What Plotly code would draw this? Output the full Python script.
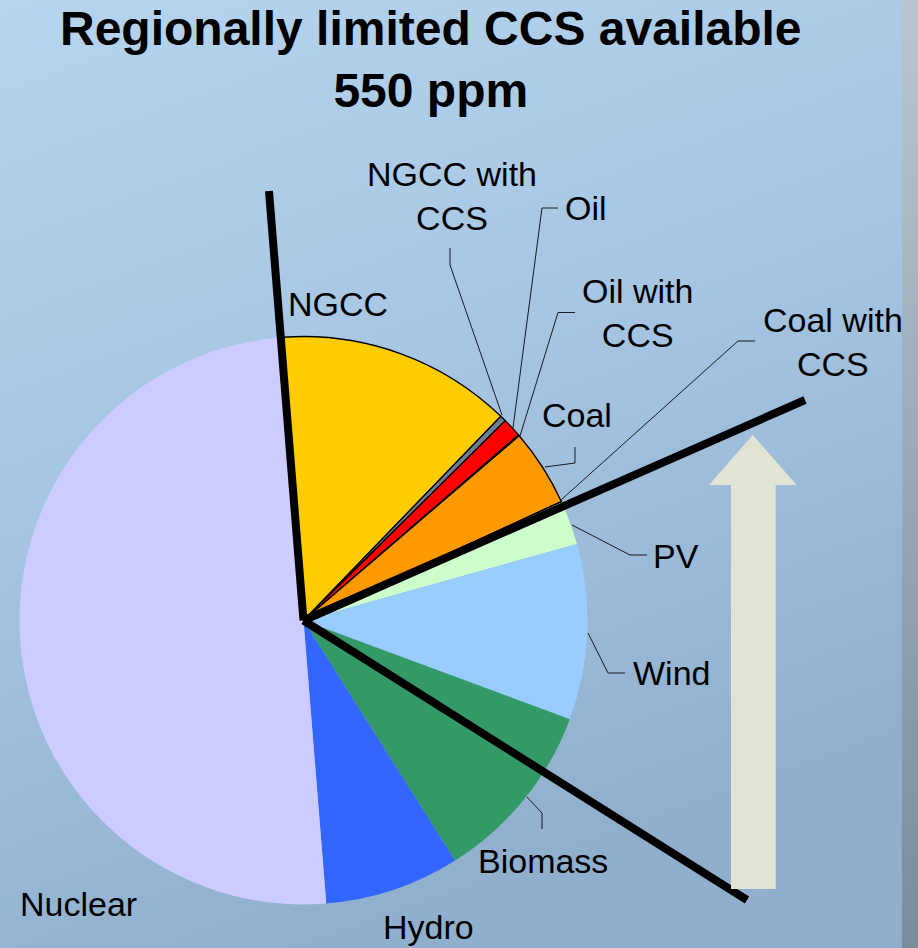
import base64
import plotly.graph_objects as go

W, H = 918, 948

# ---- data (shares of electricity generation, %) ----
categories = ["NGCC", "NGCC with CCS", "Oil", "Oil with CCS", "Coal", "Coal with CCS",
              "PV", "Wind", "Biomass", "Hydro", "Nuclear"]
shares = [13.4, 0.35, 1.1, 0.05, 4.4, 0.05, 2.5, 10.0, 10.4, 7.7, 50.2]
title_lines = ["Regionally limited CCS available", "550 ppm"]

# ---- styles ----
colors = ["#FFCC00", "#6E7E8E", "#FF0000", "#800000", "#FF9900", "#993300",
          "#CCFFCC", "#99CCFF", "#339966", "#3366FF", "#CCCCFF"]
outlined = {"NGCC", "NGCC with CCS", "Oil", "Oil with CCS", "Coal", "Coal with CCS"}
line_widths = [1.3 if c in outlined else 0 for c in categories]

# pie geometry (pixels)
CX, CY, R = 303.5, 620.5, 284


def X(px):
    return px / W


def Y(py):
    return 1 - py / H


# label layout: (text, x centre px, y middle px)
label_pos = {
    "NGCC": ("NGCC", 337.5, 304),
    "NGCC with CCS": ("NGCC with<br>CCS", 452, 196),
    "Oil": ("Oil", 586, 208),
    "Oil with CCS": ("Oil with<br>CCS", 637, 313),
    "Coal": ("Coal", 577, 415),
    "Coal with CCS": ("Coal with<br>CCS", 833, 342),
    "PV": ("PV", 675.5, 556),
    "Wind": ("Wind", 671.7, 673),
    "Biomass": ("Biomass", 543.3, 861),
    "Hydro": ("Hydro", 428.3, 927),
    "Nuclear": ("Nuclear", 78, 904),
}
leaders = [
    [(450, 248), (450, 265), (502, 415)],
    [(558, 208), (542, 208), (513, 428)],
    [(575, 312.5), (558, 312.5), (520, 436)],
    [(575, 447), (575, 463), (545, 467)],
    [(755, 341), (738, 341), (561, 500)],
    [(647, 555), (630, 555), (572, 525)],
    [(625, 673), (608, 673), (588, 633)],
    [(542, 829), (542, 813), (527, 797)],
]

fig = go.Figure()
fig.add_trace(go.Pie(
    labels=categories,
    values=shares,
    sort=False,
    direction="clockwise",
    rotation=-4.15,
    textinfo="none",
    hoverinfo="label+percent",
    marker=dict(colors=colors, line=dict(color="black", width=line_widths)),
    domain=dict(x=[X(CX - R), X(CX + R)], y=[Y(CY + R), Y(CY - R)]),
    showlegend=False,
))

# background (svg gradient)
svg = f"""<svg xmlns='http://www.w3.org/2000/svg' width='{W}' height='{H}' viewBox='0 0 {W} {H}' preserveAspectRatio='none'>
<defs>
<linearGradient id='g' x1='0' y1='0' x2='0.35' y2='1'>
<stop offset='0' stop-color='#b6d4ee'/>
<stop offset='0.5' stop-color='#a5c5e2'/>
<stop offset='1' stop-color='#8fafcc'/>
</linearGradient>
<linearGradient id='s' x1='0' y1='0' x2='0' y2='1'>
<stop offset='0' stop-color='#b9c6ce'/>
<stop offset='1' stop-color='#778d9b'/>
</linearGradient>
</defs>
<rect x='0' y='0' width='{W}' height='{H}' fill='url(#g)'/>
<rect x='902' y='0' width='{W-902}' height='{H}' fill='url(#s)'/>
</svg>"""
src = "data:image/svg+xml;base64," + base64.b64encode(svg.encode()).decode()

shapes = []
# thick black divider lines
for (x0, y0) in [(269, 191), (805, 400), (747, 900)]:
    shapes.append(dict(type="line", xref="paper", yref="paper",
                       x0=X(x0), y0=Y(y0), x1=X(CX), y1=Y(CY),
                       line=dict(color="black", width=8)))
# upward arrow
arrow = [(731, 889), (731, 485), (709, 485), (752.7, 435), (796.7, 485), (775.7, 485), (775.7, 889)]
path = "M " + " L ".join(f"{X(a):.5f},{Y(b):.5f}" for a, b in arrow) + " Z"
shapes.append(dict(type="path", xref="paper", yref="paper", path=path,
                   fillcolor="#E1E4D4", line=dict(width=0)))
# leader lines
for pts in leaders:
    p = "M " + " L ".join(f"{X(a):.5f},{Y(b):.5f}" for a, b in pts)
    shapes.append(dict(type="path", xref="paper", yref="paper", path=p,
                       line=dict(color="#1a1a1a", width=1)))

annotations = []
for cat in categories:
    text, lx, ly = label_pos[cat]
    annotations.append(dict(text=text, x=X(lx), y=Y(ly), xref="paper", yref="paper",
                            xanchor="center", yanchor="middle", showarrow=False,
                            font=dict(family="Liberation Sans, Arial, sans-serif", size=34, color="black")))
# title
annotations.append(dict(text="<br>".join(title_lines), x=X(431), y=Y(0), xref="paper", yref="paper",
                        xanchor="center", yanchor="top", showarrow=False,
                        font=dict(family="Liberation Sans, Arial, sans-serif", size=48,
                                  color="black", weight="bold")))

fig.update_layout(
    width=W, height=H,
    margin=dict(l=0, r=0, t=0, b=0),
    paper_bgcolor="#a3c3e0",
    plot_bgcolor="rgba(0,0,0,0)",
    images=[dict(source=src, xref="paper", yref="paper", x=0, y=1, sizex=1, sizey=1,
                 sizing="stretch", xanchor="left", yanchor="top", layer="below")],
    shapes=shapes,
    annotations=annotations,
)

fig.write_html("out.html")
